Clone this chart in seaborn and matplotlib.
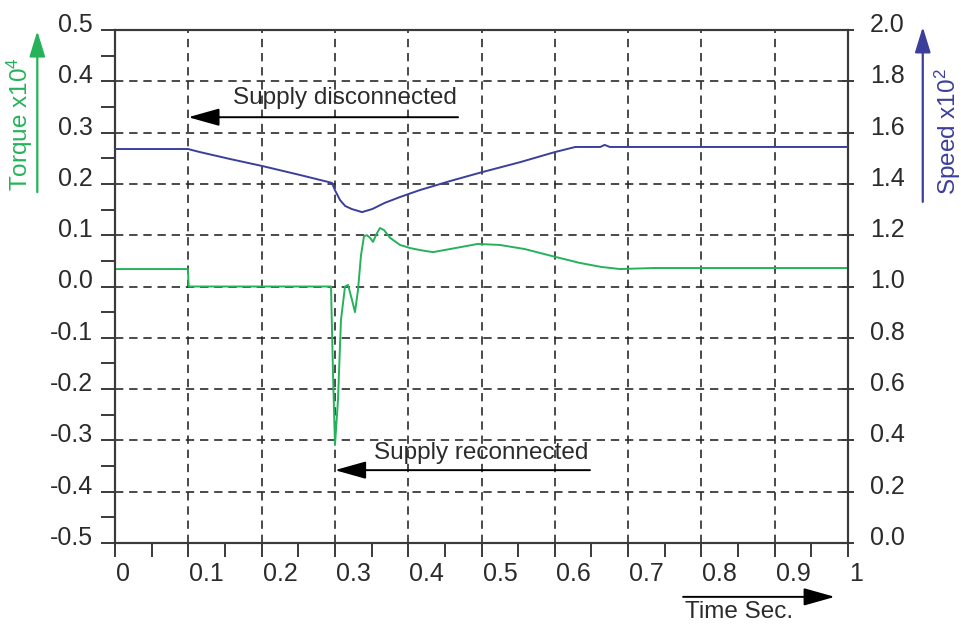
import matplotlib
matplotlib.use("Agg")
import matplotlib.pyplot as plt
import matplotlib.transforms as mtransforms
import numpy as np
import pandas as pd
import seaborn as sns

# Motor torque after the supply is cut at 0.1 s and restored near 0.3 s
torque_time = [0.0, 0.0995, 0.1005, 0.2947, 0.2974, 0.3001, 0.3042, 0.3083,
               0.3138, 0.3179, 0.3233, 0.3274, 0.3315, 0.3356, 0.3397, 0.3438,
               0.3479, 0.3520, 0.3574, 0.3615, 0.3670, 0.3752, 0.3888, 0.4025,
               0.4161, 0.4338, 0.457, 0.495, 0.525, 0.559, 0.600, 0.634,
               0.664, 0.689, 0.734, 1.0]
torque = [0.034, 0.034, 0.0, 0.0, -0.169, -0.309, -0.221, -0.065,
          0.0, 0.003, -0.026, -0.050, -0.007, 0.061, 0.098, 0.100,
          0.095, 0.087, 0.104, 0.114, 0.110, 0.095, 0.081, 0.075,
          0.071, 0.067, 0.073, 0.083, 0.081, 0.073, 0.058, 0.046,
          0.038, 0.034, 0.036, 0.036]

# Rotor speed (x10^2) over the same interval
speed_time = [0.0, 0.0996, 0.116, 0.157, 0.2005, 0.252, 0.296, 0.300, 0.307,
              0.314, 0.323, 0.337, 0.351, 0.368, 0.389, 0.416, 0.457, 0.501,
              0.553, 0.600, 0.628, 0.662, 0.668, 0.675, 1.0]
speed = [1.536, 1.536, 1.524, 1.497, 1.470, 1.435, 1.404, 1.376, 1.337,
         1.314, 1.302, 1.290, 1.302, 1.326, 1.349, 1.376, 1.411, 1.446,
         1.485, 1.524, 1.544, 1.544, 1.552, 1.544, 1.544]

x_ticks = [0, 0.1, 0.2, 0.3, 0.4, 0.5, 0.6, 0.7, 0.8, 0.9, 1.0]
x_tick_labels = ["0", "0.1", "0.2", "0.3", "0.4", "0.5", "0.6", "0.7", "0.8", "0.9", "1"]
torque_ticks = [-0.5, -0.4, -0.3, -0.2, -0.1, 0.0, 0.1, 0.2, 0.3, 0.4, 0.5]
speed_ticks = [0.0, 0.2, 0.4, 0.6, 0.8, 1.0, 1.2, 1.4, 1.6, 1.8, 2.0]

GREEN = "#25b25a"
BLUE = "#3b3f9b"
INK = "#2b2b2b"
SPINE = "#3a3a3a"

sns.set_theme(style="white")
plt.rcParams["font.family"] = ["Liberation Sans", "DejaVu Sans"]
plt.rcParams["mathtext.fontset"] = "custom"
plt.rcParams["mathtext.rm"] = "Liberation Sans"
plt.rcParams["mathtext.it"] = "Liberation Sans:italic"
plt.rcParams["mathtext.bf"] = "Liberation Sans:bold"

fig = plt.figure(figsize=(9.62, 6.26), dpi=100)
ax = fig.add_axes([115 / 962, 1 - 543 / 626, 733 / 962, 513 / 626])
ax2 = ax.twinx()

torque_df = pd.DataFrame({"t": torque_time, "torque": torque})
speed_df = pd.DataFrame({"t": speed_time, "speed": speed})

sns.lineplot(data=torque_df, x="t", y="torque", ax=ax, color=GREEN,
             lw=1.4, estimator=None, sort=False, zorder=3)
sns.lineplot(data=speed_df, x="t", y="speed", ax=ax2, color=BLUE,
             lw=1.4, estimator=None, sort=False, zorder=3)

ax.set_xlim(0, 1)
ax.set_ylim(-0.5, 0.5)
ax2.set_ylim(0, 2.0)
ax.set_xlabel("")
ax.set_ylabel("")
ax2.set_ylabel("")

# dashed grid at the major divisions
grid_style = dict(color=INK, lw=1.2, linestyle=(0, (5, 3.5)), zorder=1)
for gx in x_ticks[1:-1]:
    ax.axvline(gx, **grid_style)
for gy in torque_ticks[1:-1]:
    ax.axhline(gy, **grid_style)

for a in (ax, ax2):
    for s in a.spines.values():
        s.set_color(SPINE)
        s.set_linewidth(1.5)
        s.set_visible(True)

ax.set_xticks(x_ticks)
ax.set_xticklabels(x_tick_labels)
ax.set_xticks(np.arange(0.05, 1.0, 0.1), minor=True)
ax.set_yticks(torque_ticks)
ax.set_yticklabels([f"{v:.1f}" for v in torque_ticks])
ax.set_yticks(np.arange(-0.45, 0.5, 0.1), minor=True)
ax2.set_yticks(speed_ticks)
ax2.set_yticklabels([f"{v:.1f}" for v in speed_ticks])

ax.tick_params(axis="x", which="both", direction="out", length=10, width=1.4,
               color=SPINE, labelsize=18, labelcolor=INK, pad=4,
               bottom=True, top=False)
ax.tick_params(axis="y", which="both", direction="out", length=10, width=1.4,
               color=SPINE, labelsize=18, labelcolor=INK, pad=6,
               left=True, right=False)
ax2.tick_params(axis="y", which="major", direction="inout", length=8, width=1.4,
                color=SPINE, labelsize=18, labelcolor=INK, pad=12)
ax2.tick_params(axis="y", which="minor", length=0)

for lbl in ax.get_xticklabels():
    lbl.set_horizontalalignment("left")
    lbl.set_transform(lbl.get_transform() +
                      mtransforms.ScaledTranslation(1 / 100, 0, fig.dpi_scale_trans))
shift_up = mtransforms.ScaledTranslation(0, 7.5 / 100, fig.dpi_scale_trans)
for lbl in ax.get_yticklabels() + ax2.get_yticklabels():
    lbl.set_transform(lbl.get_transform() + shift_up)

# axis titles with arrows
axis_arrow = "-|>,head_length=1.3,head_width=0.4"
ax.text(-0.130, 0.817, r"Torque x10$^4$", transform=ax.transAxes, rotation=90,
        ha="center", va="center", fontsize=17.5, color=GREEN)
ax.annotate("", xy=(-0.106, 0.998), xytext=(-0.106, 0.684),
            xycoords="axes fraction", textcoords="axes fraction",
            arrowprops=dict(arrowstyle=axis_arrow, color=GREEN, lw=1.6,
                            shrinkA=0, shrinkB=0),
            annotation_clip=False)
ax.text(1.136, 0.801, r"Speed x10$^2$", transform=ax.transAxes, rotation=90,
        ha="center", va="center", fontsize=17.5, color=BLUE)
ax.annotate("", xy=(1.102, 1.006), xytext=(1.102, 0.665),
            xycoords="axes fraction", textcoords="axes fraction",
            arrowprops=dict(arrowstyle=axis_arrow, color=BLUE, lw=1.6,
                            shrinkA=0, shrinkB=0),
            annotation_clip=False)

pointer = "-|>,head_length=1.6,head_width=0.45"
ax.text(0.778, -0.134, "Time Sec.", transform=ax.transAxes, ha="left",
        va="center", fontsize=17.5, color=INK)
ax.annotate("", xy=(0.982, -0.105), xytext=(0.775, -0.105),
            xycoords="axes fraction", textcoords="axes fraction",
            arrowprops=dict(arrowstyle=pointer, color="black", lw=1.4,
                            shrinkA=0, shrinkB=0),
            annotation_clip=False)

# event annotations
event_arrow = dict(arrowstyle=pointer, color="black", lw=1.4, shrinkA=0, shrinkB=0)
ax.annotate("", xy=(0.100, 0.330), xytext=(0.468, 0.330),
            xycoords="data", textcoords="data", arrowprops=event_arrow)
ax.text(0.466, 0.367, "Supply disconnected", ha="right", va="center",
        fontsize=17.5, color=INK, zorder=4)
ax.annotate("", xy=(0.300, -0.358), xytext=(0.648, -0.358),
            xycoords="data", textcoords="data", arrowprops=event_arrow)
ax.text(0.646, -0.325, "Supply reconnected", ha="right", va="center",
        fontsize=17.5, color=INK, zorder=4)

fig.savefig("out.png", dpi=100)
